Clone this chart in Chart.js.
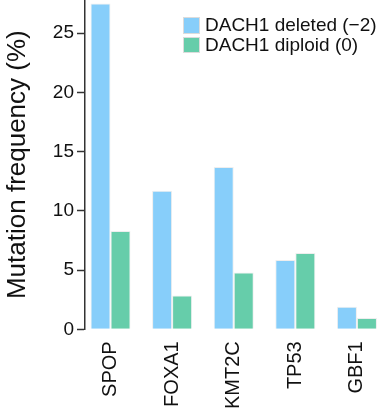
<!DOCTYPE html>
<html>
<head>
<meta charset="utf-8">
<script src="https://cdn.jsdelivr.net/npm/chart.js@4.4.1/dist/chart.umd.min.js"></script>
<style>
  body { margin: 0; background: #fff; }
  #wrap { position: relative; width: 382px; height: 415px; }
  #legend { position: absolute; left: 183px; top: 17px; font-family: 'Liberation Sans', Arial, Helvetica, sans-serif; font-size: 19px; color: #111; }
  .row { position: relative; height: 19.5px; white-space: nowrap; }
  .box { position: absolute; left: 0; top: 0; width: 15px; height: 14.5px; border: 1px solid #dcdcdc; }
  .lbl { position: absolute; left: 22px; top: 0; line-height: 16.5px; }
</style>
</head>
<body>
<div id="wrap">
  <canvas id="chart"></canvas>
  <div id="legend"></div>
</div>
<script>
const categories = ['SPOP', 'FOXA1', 'KMT2C', 'TP53', 'GBF1'];
const deletedValues = [27.5, 11.7, 13.7, 5.85, 1.9];
const diploidValues = [8.3, 2.85, 4.8, 6.45, 0.95];
const yTicks = [0, 5, 10, 15, 20, 25];
const seriesNames = ['DACH1 deleted (\u22122)', 'DACH1 diploid (0)'];
const seriesColors = ['#87CEFA', '#66CDAA'];

const font = "'Liberation Sans', Arial, Helvetica, sans-serif";

// legend (drawn as html so the boxes line up on the left)
const legend = document.getElementById('legend');
seriesNames.forEach((name, i) => {
  const row = document.createElement('div');
  row.className = 'row';
  row.innerHTML = '<span class="box" style="background:' + seriesColors[i] + '"></span><span class="lbl"></span>';
  row.querySelector('.lbl').textContent = name;
  legend.appendChild(row);
});

const toPoints = (vals) => vals.map((v, i) => ({ x: i, y: v }));

new Chart(document.getElementById('chart'), {
  type: 'bar',
  data: {
    datasets: [
      { label: seriesNames[0], data: toPoints(deletedValues), backgroundColor: seriesColors[0], borderColor: '#eeeeee', borderWidth: 1 },
      { label: seriesNames[1], data: toPoints(diploidValues), backgroundColor: seriesColors[1], borderColor: '#eeeeee', borderWidth: 1 }
    ]
  },
  options: {
    responsive: true,
    maintainAspectRatio: false,
    animation: false,
    devicePixelRatio: 1,
    layout: { padding: 0 },
    datasets: { bar: { categoryPercentage: 0.65, barPercentage: 1 } },
    plugins: {
      legend: { display: false },
      tooltip: { enabled: false }
    },
    scales: {
      x: {
        type: 'linear',
        offset: false,
        min: -0.414,
        max: 4.407,
        grid: { display: false, drawTicks: false },
        border: { display: false },
        afterBuildTicks: (scale) => { scale.ticks = categories.map((c, i) => ({ value: i })); },
        afterFit: (scale) => { scale.height = 85.7; scale.paddingLeft = 0; scale.paddingRight = 0; },
        ticks: {
          autoSkip: false,
          minRotation: 90,
          maxRotation: 90,
          padding: 12,
          color: '#111',
          font: { family: font, size: 20 },
          callback: (v) => categories[v]
        }
      },
      y: {
        min: 0,
        max: 27.8,
        grid: { drawOnChartArea: false, drawTicks: true, tickLength: 8, tickColor: '#333', tickWidth: 1.5 },
        border: { display: true, color: '#333', width: 1.5 },
        afterBuildTicks: (scale) => { scale.ticks = yTicks.map(v => ({ value: v })); },
        afterFit: (scale) => { scale.width = 85; scale.paddingTop = 0; scale.paddingBottom = 0; },
        ticks: {
          padding: 3,
          color: '#111',
          font: { family: font, size: 19 }
        },
        title: {
          display: true,
          text: 'Mutation frequency (%)',
          color: '#111',
          padding: { top: 2, bottom: 0 },
          font: { family: font, size: 26 }
        }
      }
    }
  }
});
</script>
</body>
</html>
